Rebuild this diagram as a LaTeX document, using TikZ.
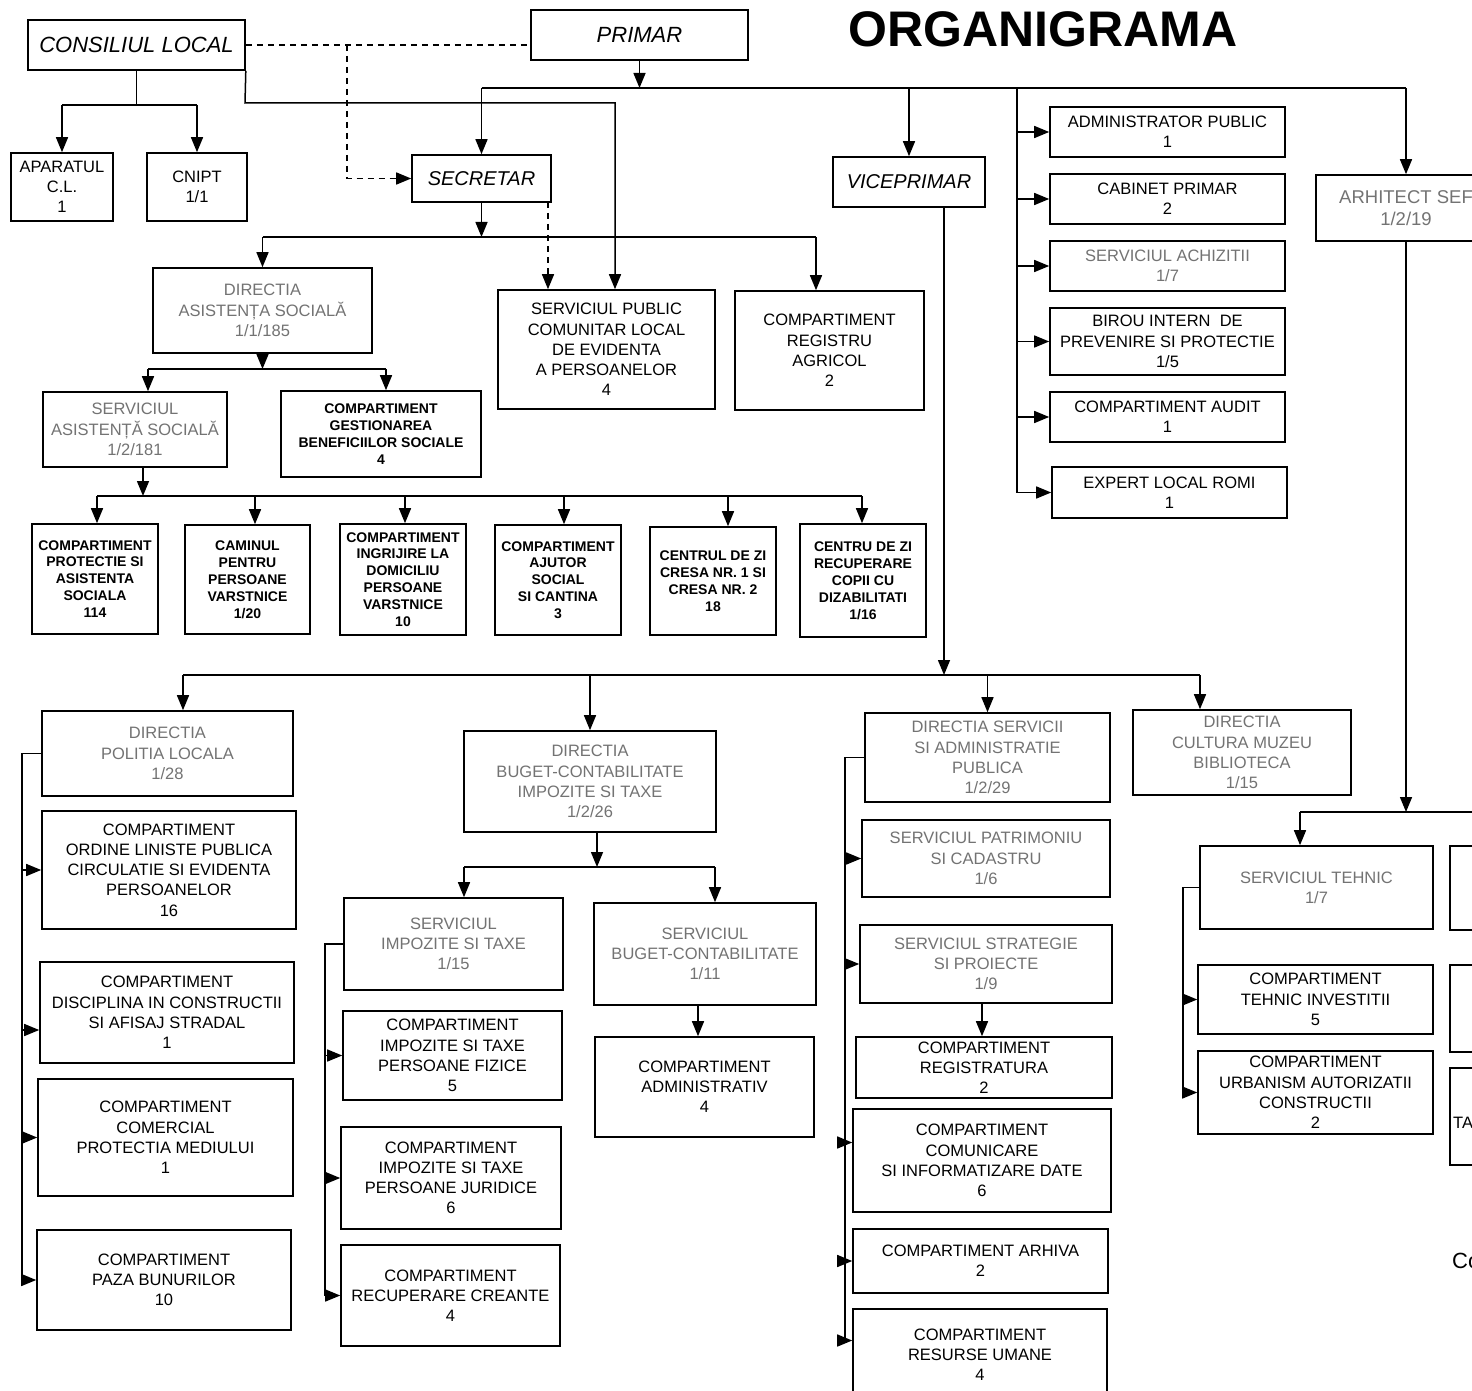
\documentclass[tikz,border=0pt]{standalone}
\usepackage{fontspec}
\setmainfont{Liberation Sans}
\usetikzlibrary{arrows.meta}
\begin{document}
\begin{tikzpicture}[x=1pt,y=-1pt,
  box/.style={draw, line width=1.6pt, inner sep=0pt, align=center, text=black,
    font=\fontsize{16.5}{20.2}\selectfont},
  wh/.style 2 args={minimum width=#1pt, minimum height=#2pt},
  faint/.style={text=black!55},
  small/.style={font=\bfseries\fontsize{14}{16.9}\selectfont},
  ital/.style={font=\itshape\fontsize{22}{26}\selectfont},
  itals/.style={font=\itshape\fontsize{20}{24}\selectfont},
  ln/.style={line width=1.5pt},
  arr/.style={ln, -{Triangle[length=15pt,width=12pt]}},
  darr/.style={ln, dash pattern=on 6pt off 5pt, -{Triangle[length=15pt,width=12pt]}},
  dsh/.style={ln, dash pattern=on 6pt off 5pt}]
\clip (0,0) rectangle (1472,1391);
\fill[white] (0,0) rectangle (1472,1391);

% ---------- top ----------
\node[font=\bfseries\fontsize{50}{50}\selectfont] (title) at (1043,29) {ORGANIGRAMA};
\node[box, ital, wh={217}{50}] (cl) at (136.5,45) {CONSILIUL LOCAL};
\node[box, ital, wh={217}{50}] (pr) at (639.5,35) {PRIMAR};
\node[box, itals, wh={139}{47}] (sec) at (481.5,178.5) {SECRETAR};
\node[box, itals, wh={152}{50}] (vice) at (909,182) {VICEPRIMAR};
\node[box, wh={102}{68}] (ap) at (62,187) {APARATUL\\C.L.\\1};
\node[box, wh={100}{68}] (cnipt) at (197,187) {CNIPT\\1/1};

% right column
\node[box, wh={235}{50}] (adm) at (1167.5,132) {ADMINISTRATOR PUBLIC\\1};
\node[box, wh={235}{50}] (cab) at (1167.5,199) {CABINET PRIMAR\\2};
\node[box, faint, wh={235}{50}] (ach) at (1167.5,266) {SERVICIUL ACHIZITII\\1/7};
\node[box, wh={235}{67}] (bir) at (1167.5,341.5) {BIROU INTERN\ \ DE\\PREVENIRE SI PROTECTIE\\1/5};
\node[box, wh={235}{50}] (aud) at (1167.5,417) {COMPARTIMENT AUDIT\\1};
\node[box, wh={235}{51}] (exp) at (1169.5,492.5) {EXPERT LOCAL ROMI\\1};
\node[box, faint, wh={180}{66}, font=\fontsize{18.5}{22}\selectfont] (arh) at (1406,208) {ARHITECT SEF\\1/2/19};

% secretar branch
\node[box, faint, wh={219}{85}] (diras) at (262.5,310.5) {DIRECTIA\\ASISTENȚA SOCIALĂ\\1/1/185};
\node[box, wh={217}{119}] (spcl) at (606.5,349.5) {SERVICIUL PUBLIC\\COMUNITAR LOCAL\\DE EVIDENTA\\A PERSOANELOR\\4};
\node[box, wh={189}{119}] (ragr) at (829.5,350.5) {COMPARTIMENT\\REGISTRU\\AGRICOL\\2};
\node[box, faint, wh={184}{75}] (servas) at (135,429.5) {SERVICIUL\\ASISTENȚĂ SOCIALĂ\\1/2/181};
\node[box, small, wh={200}{86}] (gest) at (381,434) {COMPARTIMENT\\GESTIONAREA\\BENEFICIILOR SOCIALE\\4};

\node[box, small, wh={126}{110}] (r1) at (95,579) {COMPARTIMENT\\PROTECTIE SI\\ASISTENTA\\SOCIALA\\114};
\node[box, small, wh={125}{109}] (r2) at (247.5,579.5) {CAMINUL\\PENTRU\\PERSOANE\\VARSTNICE\\1/20};
\node[box, small, wh={126}{111}] (r3) at (403,579.5) {COMPARTIMENT\\INGRIJIRE LA\\DOMICILIU\\PERSOANE\\VARSTNICE\\10};
\node[box, small, wh={126}{110}] (r4) at (558,580) {COMPARTIMENT\\AJUTOR\\SOCIAL\\SI CANTINA\\3};
\node[box, small, wh={126}{108}] (r5) at (713,581) {CENTRUL DE ZI\\CRESA NR. 1 SI\\CRESA NR. 2\\18};
\node[box, small, wh={126}{113}] (r6) at (863,580.5) {CENTRU DE ZI\\RECUPERARE\\COPII CU\\DIZABILITATI\\1/16};

% bottom: politia
\node[box, faint, wh={251}{85}] (pol) at (167.5,753.5) {DIRECTIA\\POLITIA LOCALA\\1/28};
\node[box, wh={254}{118}] (ord) at (169,870) {COMPARTIMENT\\ORDINE LINISTE PUBLICA\\CIRCULATIE SI EVIDENTA\\PERSOANELOR\\16};
\node[box, wh={254}{101}] (disc) at (167,1012.5) {COMPARTIMENT\\DISCIPLINA IN CONSTRUCTII\\SI AFISAJ STRADAL\\1};
\node[box, wh={255}{117}] (com) at (165.5,1137.5) {COMPARTIMENT\\COMERCIAL\\PROTECTIA MEDIULUI\\1};
\node[box, wh={254}{100}] (paza) at (164,1280) {COMPARTIMENT\\PAZA BUNURILOR\\10};

% bottom: buget
\node[box, faint, wh={252}{101}] (bug) at (590,781.5) {DIRECTIA\\BUGET-CONTABILITATE\\IMPOZITE SI TAXE\\1/2/26};
\node[box, faint, wh={219}{92}] (simp) at (453.5,944) {SERVICIUL\\IMPOZITE SI TAXE\\1/15};
\node[box, faint, wh={222}{102}] (sbug) at (705,954) {SERVICIUL\\BUGET-CONTABILITATE\\1/11};
\node[box, wh={219}{100}] (cadm) at (704.5,1087) {COMPARTIMENT\\ADMINISTRATIV\\4};
\node[box, wh={219}{89}] (fiz) at (452.5,1055.5) {COMPARTIMENT\\IMPOZITE SI TAXE\\PERSOANE FIZICE\\5};
\node[box, wh={220}{102}] (jur) at (451,1178) {COMPARTIMENT\\IMPOZITE SI TAXE\\PERSOANE JURIDICE\\6};
\node[box, wh={219}{101}] (crean) at (450.5,1295.5) {COMPARTIMENT\\RECUPERARE CREANTE\\4};

% bottom: servicii
\node[box, faint, wh={245}{89}] (dsa) at (987.5,757.5) {DIRECTIA SERVICII\\SI ADMINISTRATIE\\PUBLICA\\1/2/29};
\node[box, faint, wh={248}{77}] (pat) at (986,858.5) {SERVICIUL PATRIMONIU\\SI CADASTRU\\1/6};
\node[box, faint, wh={252}{78}] (strat) at (986,964) {SERVICIUL STRATEGIE\\SI PROIECTE\\1/9};
\node[box, wh={256}{61}] (regis) at (984,1067.5) {COMPARTIMENT\\REGISTRATURA\\2};
\node[box, wh={258}{103}] (comun) at (982,1160.5) {COMPARTIMENT\\COMUNICARE\\SI INFORMATIZARE DATE\\6};
\node[box, wh={255}{64}] (arhv) at (980.5,1261) {COMPARTIMENT ARHIVA\\2};
\node[box, wh={254}{91}] (rum) at (980,1354.5) {COMPARTIMENT\\RESURSE UMANE\\4};

\node[box, faint, wh={218}{85}] (cult) at (1242,752.5) {DIRECTIA\\CULTURA MUZEU\\BIBLIOTECA\\1/15};

% arhitect branch
\node[box, faint, wh={233}{83}] (steh) at (1316.5,887.5) {SERVICIUL TEHNIC\\1/7};
\node[box, wh={235}{69}] (tinv) at (1315.5,999.5) {COMPARTIMENT\\TEHNIC INVESTITII\\5};
\node[box, wh={235}{83}] (urb) at (1315.5,1092.5) {COMPARTIMENT\\URBANISM AUTORIZATII\\CONSTRUCTII\\2};
\node[box, wh={70}{84}] (x1) at (1485,888) {};
\node[box, wh={70}{87}] (x2) at (1485,1008.5) {};
\node[box, wh={70}{97}] (x3) at (1485,1116.5) {};
\node[anchor=west, inner sep=0pt, font=\fontsize{16.5}{20}\selectfont] (ta) at (1453,1123) {TA};
\node[anchor=west, inner sep=0pt, font=\fontsize{22}{26}\selectfont] (co) at (1452,1261) {Co};

% ---------- connectors ----------
% consiliul local
\coordinate (jcl) at (138,105);
\draw[ln] (cl.south) -- (cl.south |- jcl);
\draw[ln] (ap.north |- jcl) -- (cnipt.north |- jcl);
\draw[arr] (ap.north |- jcl) -- (ap.north);
\draw[arr] (cnipt.north |- jcl) -- (cnipt.north);
\coordinate (sp) at ([xshift=8.5pt]spcl.north);
\coordinate (jcl2) at (245,103);
\draw[arr] (cl.south east) -- (jcl2) -| (sp);
\draw[dsh] (cl.east) -- (cl.east -| pr.west);
\coordinate (dsplit) at (347,45);
\draw[darr] (dsplit) |- (sec.west);
\coordinate (dsec) at (548,202);
\draw[darr] (dsec) -- (dsec |- spcl.north);

% primar
\coordinate (pbus) at (640,88);
\draw[arr] (pr.south) -- (pr.south |- pbus);
\draw[ln] (sec.north |- pbus) -- (arh.north |- pbus);
\draw[arr] (sec.north |- pbus) -- (sec.north);
\draw[arr] (vice.north |- pbus) -- (vice.north);
\draw[arr] (arh.north |- pbus) -- (arh.north);
\coordinate (rbus) at (1017,88);
\draw[arr] (rbus) |- (exp.west);
\foreach \n in {adm,cab,ach,bir,aud} {\draw[arr] (\n.west -| rbus) -- (\n.west);}

% secretar
\coordinate (sbus) at (482,237);
\coordinate (ra) at ([xshift=-13.5pt]ragr.north);
\draw[arr] (sec.south) -- (sec.south |- sbus);
\draw[ln] (diras.north |- sbus) -- (ra |- sbus);
\draw[arr] (diras.north |- sbus) -- (diras.north);
\draw[arr] (ra |- sbus) -- (ra);

% directia asistenta
\coordinate (abus) at (259,369);
\coordinate (sa) at ([xshift=13pt]servas.north);
\coordinate (ge) at ([xshift=5pt]gest.north);
\draw[arr] (diras.south) -- (diras.south |- abus);
\draw[ln] (sa |- abus) -- (ge |- abus);
\draw[arr] (sa |- abus) -- (sa);
\draw[arr] (ge |- abus) -- (ge);

% serviciul asistenta
\coordinate (bbus) at (143,496);
\coordinate (sb) at ([xshift=8pt]servas.south);
\draw[arr] (sb) -- (sb |- bbus);
\coordinate (t1) at ([xshift=2pt]r1.north);
\coordinate (t2) at ([xshift=7.5pt]r2.north);
\coordinate (t3) at ([xshift=2pt]r3.north);
\coordinate (t4) at ([xshift=6pt]r4.north);
\coordinate (t5) at ([xshift=15pt]r5.north);
\coordinate (t6) at ([xshift=-1pt]r6.north);
\draw[ln] (t1 |- bbus) -- (t6 |- bbus);
\foreach \t in {t1,t2,t3,t4,t5,t6} {\draw[arr] (\t |- bbus) -- (\t);}

% viceprimar
\coordinate (vbus) at (944,675);
\coordinate (vs) at ([xshift=35pt]vice.south);
\draw[arr] (vs) -- (vs |- vbus);
\coordinate (tp) at ([xshift=15.5pt]pol.north);
\coordinate (tc) at ([xshift=-42pt]cult.north);
\draw[ln] (tp |- vbus) -- (tc |- vbus);
\draw[arr] (tp |- vbus) -- (tp);
\draw[arr] (bug.north |- vbus) -- (bug.north);
\draw[arr] (dsa.north |- vbus) -- (dsa.north);
\draw[arr] (tc |- vbus) -- (tc);

% politia
\coordinate (pbr) at (22,747);
\coordinate (dsc) at ([yshift=-17.5pt]disc.west);
\draw[ln] (pol.west) -- (pol.west -| pbr) -- (paza.west -| pbr);
\draw[arr] (ord.west -| pbr) -- (ord.west);
\draw[arr] (dsc -| pbr) -- (dsc);
\draw[arr] (com.west -| pbr) -- (com.west);
\draw[arr] (paza.west -| pbr) -- (paza.west);

% buget
\coordinate (gbus) at (597,867);
\coordinate (gb) at ([xshift=7pt]bug.south);
\coordinate (si) at ([xshift=10.5pt]simp.north);
\coordinate (sg) at ([xshift=10pt]sbug.north);
\draw[arr] (gb) -- (gb |- gbus);
\draw[ln] (si |- gbus) -- (sg |- gbus);
\draw[arr] (si |- gbus) -- (si);
\draw[arr] (sg |- gbus) -- (sg);
\coordinate (sgb) at ([xshift=-7pt]sbug.south);
\draw[arr] (sgb) -- (sgb |- cadm.north);
\coordinate (ibr) at (325,941);
\draw[ln] (simp.west) -- (simp.west -| ibr) -- (crean.west -| ibr);
\foreach \n in {fiz,jur,crean} {\draw[arr] (\n.west -| ibr) -- (\n.west);}

% servicii
\coordinate (dbr) at (845,751);
\coordinate (cmi) at ([yshift=18pt]comun.west);
\coordinate (rmi) at ([yshift=14pt]rum.west);
\draw[ln] (dsa.west) -- (dsa.west -| dbr) -- (rmi -| dbr);
\draw[arr] (pat.west -| dbr) -- (pat.west);
\draw[arr] (strat.west -| dbr) -- (strat.west);
\draw[arr] (cmi -| dbr) -- (cmi);
\draw[arr] (arhv.west -| dbr) -- (arhv.west);
\draw[arr] (rmi -| dbr) -- (rmi);
\coordinate (stb) at ([xshift=-4pt]strat.south);
\draw[arr] (stb) -- (stb |- regis.north);

% arhitect
\coordinate (hbus) at (1406,812);
\coordinate (hend) at (1490,812);
\coordinate (th) at ([xshift=-16.5pt]steh.north);
\draw[arr] (arh.south) -- (arh.south |- hbus);
\draw[ln] (th |- hbus) -- (hend);
\draw[arr] (th |- hbus) -- (th);
\coordinate (tbr) at (1183,881);
\draw[ln] (steh.west) -- (steh.west -| tbr) -- (urb.west -| tbr);
\draw[arr] (tinv.west -| tbr) -- (tinv.west);
\draw[arr] (urb.west -| tbr) -- (urb.west);
\end{tikzpicture}
\end{document}
